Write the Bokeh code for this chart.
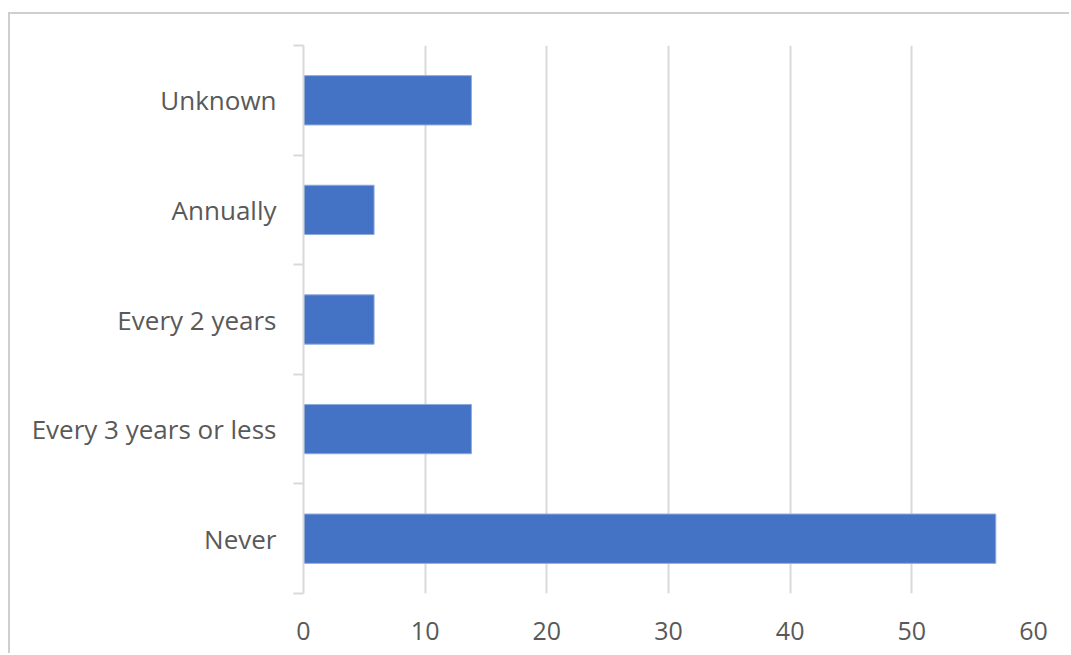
from bokeh.plotting import figure
from bokeh.models import FixedTicker, Range1d, ColumnDataSource
from bokeh.embed import file_html
from bokeh.resources import INLINE

categories = ["Never", "Every 3 years or less", "Every 2 years", "Annually", "Unknown"]
values = [56.9, 13.8, 5.8, 5.8, 13.8]
x_ticks = [0, 10, 20, 30, 40, 50, 60]

pos = [i + 0.5 for i in range(len(categories))]
src = ColumnDataSource(dict(y=pos, v=values, cat=categories))

p = figure(width=1061, height=641, output_backend="svg", toolbar_location=None,
           x_range=Range1d(0, 60), y_range=Range1d(0, len(categories)),
           min_border_left=293, min_border_right=38, min_border_top=31, min_border_bottom=62)
p.styles = {"margin-left": "8px", "margin-top": "12px",
            "border-left": "2px solid #cfcfcf", "border-top": "2px solid #cfcfcf"}
p.outline_line_color = None
p.background_fill_color = "white"
p.border_fill_color = "white"

p.hbar(y="y", right="v", left=0, height=0.45, source=src,
       fill_color="#4472C4", line_color="#8eaadb", line_width=1)

# x axis
p.xaxis.ticker = FixedTicker(ticks=x_ticks)
p.xaxis.axis_line_color = None
p.xaxis.major_tick_line_color = None
p.xaxis.minor_tick_line_color = None
p.xaxis.major_label_text_font = "Open Sans"
p.xaxis.major_label_text_font_size = "25px"
p.xaxis.major_label_text_color = "#595959"
p.xaxis.major_label_standoff = 22

# y axis
p.yaxis.ticker = FixedTicker(ticks=pos, minor_ticks=list(range(len(categories) + 1)))
p.yaxis.major_label_overrides = {pp: c for pp, c in zip(pos, categories)}
p.yaxis.axis_line_color = "#d9d9d9"
p.yaxis.axis_line_width = 2
p.yaxis.major_tick_line_color = None
p.yaxis.minor_tick_line_color = "#d9d9d9"
p.yaxis.minor_tick_line_width = 2
p.yaxis.minor_tick_out = 10
p.yaxis.minor_tick_in = 0
p.yaxis.major_label_text_font = "Open Sans"
p.yaxis.major_label_text_font_size = "26px"
p.yaxis.major_label_text_color = "#595959"
p.yaxis.major_label_standoff = 17

p.xgrid.ticker = FixedTicker(ticks=x_ticks[1:])
p.xgrid.grid_line_color = "#d9d9d9"
p.xgrid.grid_line_width = 2
p.ygrid.grid_line_color = None

open("out.html", "w").write(file_html(p, INLINE))
